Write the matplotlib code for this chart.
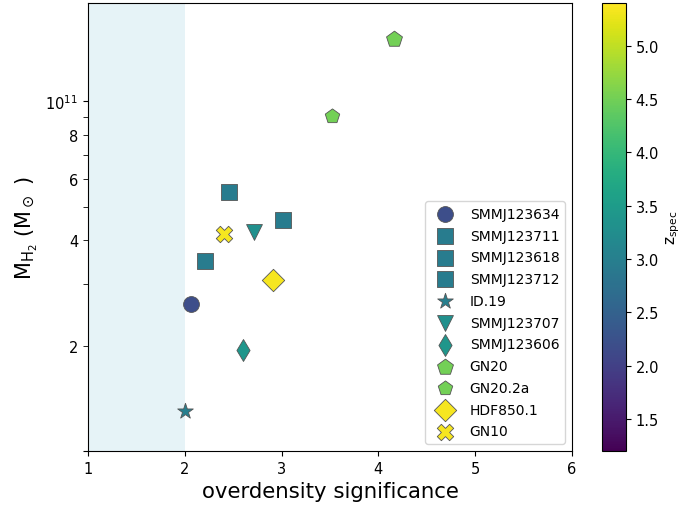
import numpy as np
import matplotlib
matplotlib.use("Agg")
import matplotlib.pyplot as plt
from matplotlib.ticker import FuncFormatter, LogLocator

names = ["SMMJ123634", "SMMJ123711", "SMMJ123618", "SMMJ123712", "ID.19",
         "SMMJ123707", "SMMJ123606", "GN20", "GN20.2a", "HDF850.1", "GN10"]
overdensity = [2.06, 2.455, 2.21, 3.01, 2.005, 2.71, 2.60, 4.157, 3.516, 2.915, 2.404]
mass_h2 = [2.64e10, 5.52e10, 3.49e10, 4.57e10, 1.30e10, 4.22e10, 1.94e10,
           1.51e11, 9.09e10, 3.09e10, 4.18e10]
z_spec = [2.2, 2.95, 2.95, 2.95, 3.0, 3.3, 3.4, 4.5, 4.5, 5.35, 5.35]
markers = ["o", "s", "s", "s", "*", "v", "d", "p", "p", "D", "X"]
sizes = [130, 130, 130, 130, 140, 130, 125, 145, 120, 130, 140]

zmin, zmax = 1.2, 5.4

fig = plt.figure(figsize=(6.96, 5.06), dpi=100)
ax = fig.add_axes([88/696, 54/506, 484/696, 448/506])
cax = fig.add_axes([602/696, 54/506, 24/696, 448/506])

ax.axvspan(1, 2, color="lightblue", alpha=0.3, lw=0, zorder=0)

cmap = plt.get_cmap("viridis")
norm = matplotlib.colors.Normalize(vmin=zmin, vmax=zmax)
for n, x, y, z, m, s in zip(names, overdensity, mass_h2, z_spec, markers, sizes):
    ax.scatter([x], [y], c=[z], cmap=cmap, norm=norm, marker=m, s=s,
               edgecolors="#555555", linewidths=0.6, label=n, zorder=3)

ax.set_yscale("log")
ax.set_xlim(1, 6)
ax.set_ylim(1.0e10, 1.91e11)

def major_fmt(v, pos):
    if abs(v - 1e11) / 1e11 < 1e-6:
        return r"$\mathdefault{10^{11}}$"
    return ""

def minor_fmt(v, pos):
    k = int(round(v / 1e10))
    if k in (2, 4, 6, 8) and abs(v / 1e10 - k) < 1e-6:
        return str(k)
    return ""

ax.yaxis.set_major_locator(LogLocator(base=10))
ax.yaxis.set_major_formatter(FuncFormatter(major_fmt))
ax.yaxis.set_minor_locator(LogLocator(base=10, subs=np.arange(2, 10)))
ax.yaxis.set_minor_formatter(FuncFormatter(minor_fmt))
ax.tick_params(axis="y", which="minor", length=3.5, labelsize=10.5)
ax.tick_params(axis="both", which="major", labelsize=10.5)

ax.set_xlabel("overdensity significance", fontsize=15.3)
ax.set_ylabel(r"$\mathrm{M_{H_2}\ (M_\odot\ )}$", fontsize=15)

ax.legend(loc="lower right", fontsize=10, labelspacing=0.56)

cb = fig.colorbar(matplotlib.cm.ScalarMappable(norm=norm, cmap=cmap), cax=cax)
cb.set_label(r"$\mathrm{z_{spec}}$", fontsize=11)
cb.ax.tick_params(labelsize=10.5)

fig.savefig("out.png", dpi=100)
